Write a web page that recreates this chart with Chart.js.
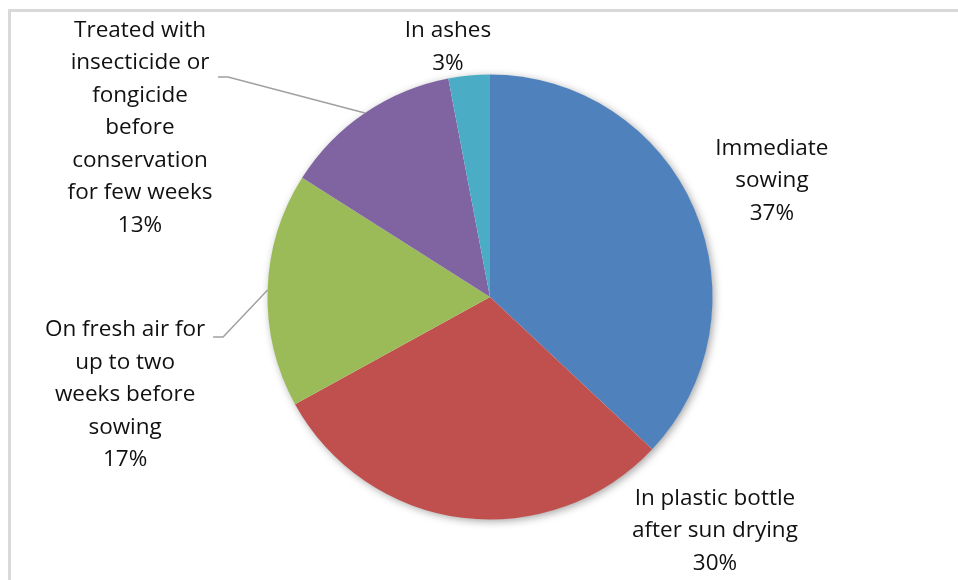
<!DOCTYPE html>
<html>
<head>
<meta charset="utf-8">
<script src="https://cdn.jsdelivr.net/npm/chart.js@4/dist/chart.umd.min.js"></script>
<style>
  html, body { margin: 0; padding: 0; background: #ffffff; }
  #wrap { width: 958px; height: 580px; position: relative; }
</style>
</head>
<body>
<div id="wrap"><canvas id="pie" width="958" height="580"></canvas></div>
<script>
// Seed conservation methods and their shares (%)
const categories = [
  'Immediate sowing',
  'In plastic bottle after sun drying',
  'On fresh air for up to two weeks before sowing',
  'Treated with insecticide or fongicide before conservation for few weeks',
  'In ashes'
];
const shares = [37, 30, 17, 13, 3];
// Wrapped label text for each slice
const labelLines = [
  ['Immediate', 'sowing'],
  ['In plastic bottle', 'after sun drying'],
  ['On fresh air for', 'up to two', 'weeks before', 'sowing'],
  ['Treated with', 'insecticide or', 'fongicide', 'before', 'conservation', 'for few weeks'],
  ['In ashes']
];
const sliceColors = ['#4F81BD', '#C0504D', '#9BBB59', '#8064A2', '#4BACC6'];

// Label block centre, in units of the pie radius from the pie centre
const labelPlacement = [
  [1.267, -0.521],
  [1.011, 1.052],
  [-1.640, 0.440],
  [-1.573, -0.760],
  [-0.189, -1.124]
];
// Leader lines: [elbow offset, end offset] in px from the label centre (null = none)
const leaders = [
  null,
  null,
  [[98, -58], [88, -58]],
  [[88, -51], [78, -51]],
  null
];
const FONT = '22.5px "Open Sans", Lato, sans-serif';
const LINE_H = 32.5;

// Light frame around the chart
const framePlugin = {
  id: 'frame',
  beforeDraw(chart) {
    const ctx = chart.ctx;
    ctx.save();
    ctx.strokeStyle = '#d9d9d9';
    ctx.lineWidth = 3;
    ctx.strokeRect(9.5, 10.5, 1200, 1200);
    ctx.restore();
  }
};

// Soft shadow under the whole pie
const shadowPlugin = {
  id: 'pieShadow',
  beforeDatasetsDraw(chart) {
    const arc = chart.getDatasetMeta(0).data[0];
    if (!arc) return;
    const ctx = chart.ctx;
    ctx.save();
    ctx.shadowColor = 'rgba(0,0,0,0.38)';
    ctx.shadowBlur = 9;
    ctx.shadowOffsetX = 2;
    ctx.shadowOffsetY = 2;
    ctx.fillStyle = '#ffffff';
    ctx.beginPath();
    ctx.arc(arc.x, arc.y, arc.outerRadius - 0.5, 0, Math.PI * 2);
    ctx.fill();
    ctx.restore();
  }
};

// Outside labels with category text and percentage, plus leader lines
const labelPlugin = {
  id: 'outsideLabels',
  afterDatasetsDraw(chart) {
    const ctx = chart.ctx;
    const meta = chart.getDatasetMeta(0);
    const values = chart.data.datasets[0].data;
    const total = values.reduce((a, b) => a + b, 0);
    ctx.save();
    ctx.font = FONT;
    ctx.textAlign = 'center';
    ctx.textBaseline = 'middle';
    meta.data.forEach((arc, i) => {
      const r = arc.outerRadius;
      const cx = arc.x + labelPlacement[i][0] * r;
      const cy = arc.y + labelPlacement[i][1] * r;
      const lines = labelLines[i].concat([Math.round(values[i] / total * 100) + '%']);
      const top = cy - (lines.length - 1) * LINE_H / 2;
      ctx.fillStyle = '#111111';
      lines.forEach((t, k) => ctx.fillText(t, cx, top + k * LINE_H));

      const ld = leaders[i];
      if (ld) {
        const mid = (arc.startAngle + arc.endAngle) / 2;
        const ax = arc.x + Math.cos(mid) * r;
        const ay = arc.y + Math.sin(mid) * r;
        ctx.strokeStyle = '#a0a0a0';
        ctx.lineWidth = 1.5;
        ctx.beginPath();
        ctx.moveTo(ax, ay);
        ctx.lineTo(cx + ld[0][0], cy + ld[0][1]);
        ctx.lineTo(cx + ld[1][0], cy + ld[1][1]);
        ctx.stroke();
      }
    });
    ctx.restore();
  }
};

new Chart(document.getElementById('pie'), {
  type: 'pie',
  data: {
    labels: categories,
    datasets: [{
      data: shares,
      backgroundColor: sliceColors,
      borderWidth: 0
    }]
  },
  options: {
    responsive: false,
    animation: false,
    rotation: 0,
    layout: { padding: { left: 267.5, right: 245.5, top: 74.5, bottom: 60.5 } },
    plugins: {
      legend: { display: false },
      tooltip: { enabled: false }
    }
  },
  plugins: [framePlugin, shadowPlugin, labelPlugin]
});
</script>
</body>
</html>
